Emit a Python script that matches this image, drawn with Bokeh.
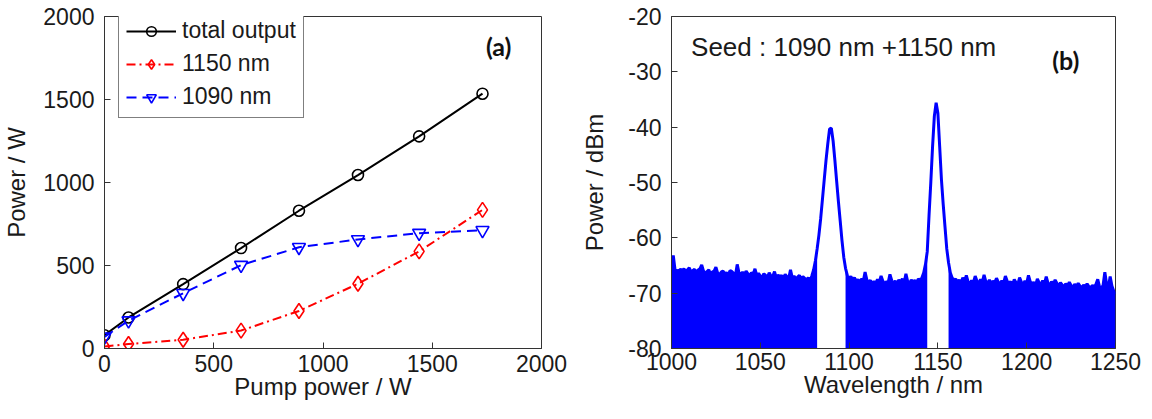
import numpy as np
from bokeh.plotting import figure
from bokeh.models import Range1d, SingleIntervalTicker, Label, Legend, LegendItem, PrintfTickFormatter
from bokeh.layouts import row
from bokeh.embed import file_html
from bokeh.resources import INLINE

# ---------------- data: panel (a) ----------------
pump_power = [0, 110, 360, 625, 890, 1160, 1440, 1730]
total_output = [80, 187, 388, 605, 830, 1045, 1278, 1535]
output_1150 = [12, 27, 53, 108, 226, 390, 585, 835]
output_1090 = [70, 168, 333, 502, 610, 657, 695, 712]

# ---------------- data: panel (b) ----------------
wl_start = 1000
seg_a = [-64.5, -63.2, -65.8, -65.9, -66.0, -65.7, -65.9, -65.6, -66.1, -65.8,
         -65.4, -66.2, -65.9, -65.7, -66.3, -65.8, -65.6, -64.9, -66.0, -66.4,
         -66.1, -65.8, -66.5, -66.2, -66.0, -65.3, -66.4, -66.6, -66.2, -66.0,
         -66.5, -66.3, -66.7, -65.9, -66.1, -66.4, -66.8, -64.8, -66.3, -66.6,
         -66.2, -66.7, -66.0, -66.5, -66.9, -66.3, -66.6, -65.6, -66.8, -66.4,
         -66.9, -67.1, -66.5, -66.8, -67.2, -66.3, -66.9, -67.0, -66.1, -67.3,
         -66.7, -67.1, -66.8, -67.4, -66.6, -67.0, -67.3, -65.8, -67.2, -66.9,
         -67.4, -67.1, -66.8, -67.5, -67.0, -67.3, -67.6, -67.2, -67.8, -66.9,
         -65.8, -64.2, -62.0]
peak_1090 = [-59.5, -56.5, -53.0, -49.5, -46.0, -43.0, -40.3, -40.2, -42.5, -46.0,
             -49.8, -53.5, -57.0, -60.5, -63.5]
seg_b = [-65.5, -66.8, -67.3, -67.0, -67.6, -67.2, -67.9, -67.5, -68.1, -67.4,
         -67.8, -66.2, -67.6, -68.0, -67.7, -68.3, -67.9, -68.2, -67.5, -68.0,
         -66.9, -67.8, -68.4, -67.9, -68.1, -66.6, -67.7, -68.2, -67.8, -68.3,
         -67.6, -68.0, -67.4, -68.1, -66.5, -67.9, -68.2, -67.6, -68.0, -67.7,
         -68.1, -67.4, -67.8, -67.2, -66.3, -64.8, -62.5]
peak_1150 = [-56.0, -50.0, -43.5, -38.0, -35.6, -37.5, -43.5, -49.5, -54.0, -58.0, -62.0]
seg_c = [-64.5, -66.3, -67.2, -67.8, -67.4, -68.1, -67.6, -68.3, -67.2, -68.0,
         -66.8, -67.9, -68.4, -67.7, -68.1, -66.9, -67.8, -68.3, -67.5, -68.0,
         -66.7, -67.9, -68.2, -67.6, -68.4, -67.8, -68.1, -67.3, -68.0, -68.5,
         -67.7, -68.2, -66.9, -67.8, -68.3, -67.9, -68.6, -67.5, -68.1, -68.4,
         -67.2, -68.0, -68.5, -67.8, -68.2, -66.8, -67.9, -68.4, -68.0, -68.6,
         -67.4, -68.1, -68.5, -67.7, -68.3, -67.0, -68.2, -68.6, -67.9, -68.4,
         -67.6, -68.2, -68.8, -68.1, -68.5, -68.9, -68.3, -68.7, -68.0, -68.6,
         -69.0, -68.4, -68.8, -68.2, -68.7, -69.1, -68.5, -68.9, -68.3, -68.8,
         -69.0, -68.6, -68.9, -68.4, -67.5, -68.8, -69.1, -68.6, -66.2, -68.4,
         -68.9, -67.0, -68.7, -69.6, -70.2]
floor_dbm = -80

spectrum = np.array(seg_a + peak_1090 + seg_b + peak_1150 + seg_c, dtype=float)
wavelength = wl_start + np.arange(len(spectrum))

FONT = "Liberation Sans"
AX_COL = "#333333"


def style_axis(ax):
    ax.major_label_text_font = FONT
    ax.major_label_text_font_size = "23px"
    ax.major_label_text_color = "#1a1a1a"
    ax.axis_label_text_font = FONT
    ax.axis_label_text_font_size = "24px"
    ax.axis_label_text_font_style = "normal"
    ax.axis_label_text_color = "#1a1a1a"
    ax.major_tick_in = 6
    ax.major_tick_out = 0
    ax.minor_tick_line_color = None
    ax.axis_line_color = AX_COL
    ax.major_tick_line_color = AX_COL
    ax.formatter = PrintfTickFormatter(format="%d")


# ---------------- panel (a) ----------------
pa = figure(width=578, height=418, output_backend="svg", toolbar_location=None,
            x_range=Range1d(0, 2000), y_range=Range1d(0, 2000),
            min_border_left=103, min_border_right=37, min_border_top=16, min_border_bottom=70)
pa.xaxis.ticker = SingleIntervalTicker(interval=500)
pa.yaxis.ticker = SingleIntervalTicker(interval=500)
pa.xaxis.axis_label = "Pump power / W"
pa.yaxis.axis_label = "Power / W"
style_axis(pa.xaxis[0])
style_axis(pa.yaxis[0])
pa.xaxis.major_label_standoff = 2
pa.yaxis.major_label_standoff = 6
pa.yaxis.axis_label_standoff = 10
pa.xaxis.axis_label_standoff = -2
pa.xgrid.visible = False
pa.ygrid.visible = False
pa.outline_line_color = AX_COL

l1 = pa.line(pump_power, total_output, line_color="black", line_width=2)
m1 = pa.scatter(pump_power, total_output, marker="circle", size=11, fill_color=None,
                line_color="black", line_width=1.6)
l2 = pa.line(pump_power, output_1150, line_color="#ff0000", line_width=2, line_dash="9 4 2 4")
m2 = pa.scatter(pump_power, output_1150, marker="diamond", size=15, fill_color=None,
                line_color="#ff0000", line_width=1.6)
l3 = pa.line(pump_power, output_1090, line_color="#0000ff", line_width=2, line_dash="10 6")
m3 = pa.scatter(pump_power, output_1090, marker="inverted_triangle", size=13, fill_color=None,
                line_color="#0000ff", line_width=1.6)

legend = Legend(items=[LegendItem(label="total output", renderers=[l1, m1]),
                       LegendItem(label="1150 nm", renderers=[l2, m2]),
                       LegendItem(label="1090 nm", renderers=[l3, m3])],
                location=(14, 230))
legend.label_text_font = FONT
legend.label_text_font_size = "23px"
legend.label_text_color = "#1a1a1a"
legend.glyph_width = 50
legend.glyph_height = 24
legend.label_height = 24
legend.spacing = 6
legend.padding = 7
legend.label_standoff = 6
legend.border_line_color = "black"
legend.border_line_width = 1
legend.background_fill_color = "white"
legend.background_fill_alpha = 1
legend.margin = 0
pa.add_layout(legend, "center")

pa.add_layout(Label(x=1804, y=1825, text="(a)", text_font="Lato", text_font_style="bold",
                    text_font_size="25px", text_align="center", text_baseline="middle",
                    text_color="#111111"))

# ---------------- panel (b) ----------------
pb = figure(width=572, height=418, output_backend="svg", toolbar_location=None,
            x_range=Range1d(1000, 1250), y_range=Range1d(-80, -20),
            min_border_left=92, min_border_right=35, min_border_top=16, min_border_bottom=70)
pb.xaxis.ticker = SingleIntervalTicker(interval=50)
pb.yaxis.ticker = SingleIntervalTicker(interval=10)
pb.xaxis.axis_label = "Wavelength / nm"
pb.yaxis.axis_label = "Power / dBm"
style_axis(pb.xaxis[0])
style_axis(pb.yaxis[0])
pb.xaxis.major_label_standoff = 0
pb.yaxis.major_label_standoff = 6
pb.yaxis.axis_label_standoff = 17
pb.xaxis.axis_label_standoff = -2
pb.xgrid.visible = False
pb.ygrid.visible = False
pb.outline_line_color = AX_COL

n_a = len(seg_a)
n_p1 = len(peak_1090)
n_b = len(seg_b)
n_p2 = len(peak_1150)
blue = "#0000ff"
segments = [(0, n_a), (n_a + n_p1, n_a + n_p1 + n_b), (n_a + n_p1 + n_b + n_p2, len(spectrum))]
for s, e in segments:
    pb.varea(x=wavelength[s:e], y1=np.full(e - s, floor_dbm), y2=spectrum[s:e],
             fill_color=blue)
pb.line(wavelength, spectrum, line_color=blue, line_width=3)

pb.add_layout(Label(x=1011, y=-25.6, text="Seed : 1090 nm +1150 nm", text_font=FONT,
                    text_font_size="26px", text_align="left", text_baseline="middle",
                    text_color="#1a1a1a"))
pb.add_layout(Label(x=1222, y=-27.9, text="(b)", text_font="Lato", text_font_style="bold",
                    text_font_size="25px", text_align="center", text_baseline="middle",
                    text_color="#111111"))

layout = row(pa, pb)
open("out.html", "w").write(file_html(layout, INLINE))
